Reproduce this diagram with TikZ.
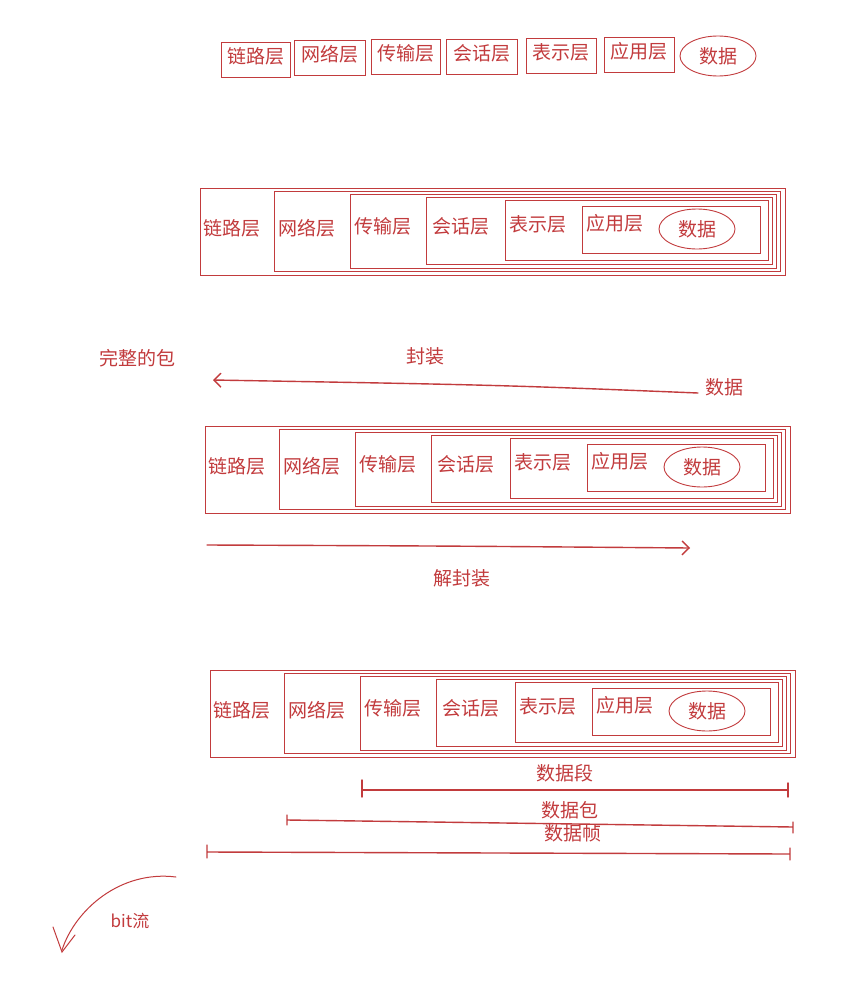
\documentclass[tikz,border=0pt]{standalone}
\usepackage{fontspec}
\setmainfont{Noto Sans CJK SC}
\usetikzlibrary{shapes.geometric,arrows.meta}
\definecolor{rd}{HTML}{C23B3D}
\tikzset{
  bx/.style={draw=rd, line width=0.9pt, inner sep=0pt},
  lbl/.style={text=rd, font=\fontsize{19}{22}\selectfont, inner sep=0pt},
  ln/.style={draw=rd, line width=1.4pt, line cap=round},
}
\newcommand{\mygroup}[3]{% dx dy prefix
\begin{scope}[shift={(#1,#2)}]
 \node[bx,minimum width=585pt,minimum height=87pt,anchor=north west] (#3o) at (200,188) {};
 \draw[rd,line width=0.8pt] (274,191) rectangle (780,271);
 \draw[rd,line width=0.8pt] (350,194) rectangle (776,268);
 \draw[rd,line width=0.8pt] (426,197) rectangle (772,264);
 \draw[rd,line width=0.8pt] (505,200) rectangle (768,260);
 \draw[rd,line width=0.8pt] (582,206) rectangle (760,253);
 \node[lbl] (#3a) at (232,228) {链路层};
 \node[lbl] (#3b) at (307,228) {网络层};
 \node[lbl] (#3c) at (383,226) {传输层};
 \node[lbl] (#3d) at (461,226) {会话层};
 \node[lbl] (#3e) at (538,224) {表示层};
 \node[lbl] (#3f) at (615,223) {应用层};
 \node[lbl,draw=rd,line width=0.9pt,ellipse,minimum width=76pt,minimum height=40pt] (#3g) at (697,229) {数据};
\end{scope}}
\begin{document}
\begin{tikzpicture}[x=1pt,y=-1pt]
\fill[white] (0,0) rectangle (857,988);
\useasboundingbox (0,0) rectangle (857,988);
% top row
\foreach \n/\x/\y/\w/\t in {t1/256/60/69/链路层,t2/330/58/71/网络层,t3/406/57/69/传输层,t4/482/57/71/会话层,t5/561/56/70/表示层,t6/639/55/70/应用层}{
 \node[bx,minimum width=\w pt,minimum height=35pt] (\n) at (\x,\y) {};
 \node[lbl] at (\x,\y-4) {\t};
}
\node[lbl,draw=rd,line width=0.9pt,ellipse,minimum width=76pt,minimum height=40pt] (t7) at (718,56) {数据};
\mygroup{0}{0}{A}
\mygroup{5}{238}{B}
\mygroup{10}{482}{C}
% encapsulation
\node[lbl] (whole) at (137,358) {完整的包};
\node[lbl] (enc) at (425,356) {封装};
\node[lbl] (dat) at (724,387) {数据};
\coordinate (e1) at (698,393);
\coordinate (e2) at (213,380);
\draw[ln,-{Straight Barb[length=7pt]}] (e1) .. controls (500,385) .. (e2);
\coordinate (d1) at (207,545);
\coordinate (d2) at (690,548);
\draw[ln,-{Straight Barb[length=7pt]}] (d1) .. controls (450,546) .. (d2);
\node[lbl] (dec) at (462,578) {解封装};
% brackets
\node[lbl] (seg) at (565,773) {数据段};
\node[lbl] (pkt) at (570,810) {数据包};
\node[lbl] (frm) at (573,833) {数据帧};
\draw[ln] (362,780) -- (362,797) (362,790) -- (788,790) (788,783) -- (788,797);
\draw[ln] (287,815) -- (287,825) (287,820) -- (793,827) (793,822) -- (793,833);
\draw[ln] (207,845) -- (207,858) (207,852) -- (790,854) (790,848) -- (790,860);
% bit stream
\node[lbl,font=\fontsize{17}{20}\selectfont] (bit) at (130,921) {bit流};
\draw[ln,line width=1pt] (176,877) .. controls (120,870) and (75,910) .. (62,950);
\draw[ln,line width=1pt] (53,927) -- (62,952) -- (75,935);
\end{tikzpicture}
\end{document}
